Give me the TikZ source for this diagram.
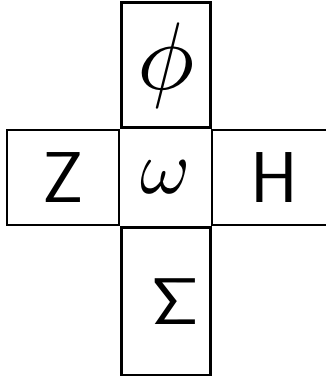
\documentclass[tikz,border=0pt]{standalone}
\usepackage{graphicx}
\usetikzlibrary{positioning}

\begin{document}
\begin{tikzpicture}[x=1pt,y=-1pt,
			cell/.style={draw, line width=2.4pt, inner sep=0pt, minimum width=89pt, minimum height=95pt},
			open/.style={inner sep=0pt, minimum width=114pt, minimum height=95pt},
			big/.style={font=\fontsize{#1}{#1}\selectfont}]
			\useasboundingbox (0,0) rectangle (325,376);
			\node[cell, draw=none] (omega) at (166,177.5) {\scalebox{7.6}{$\omega$}};
			\node[cell, minimum height=125pt, above=0pt of omega] (phi) {\scalebox{9.6}{$\phi$}};
			\node[cell, minimum height=148pt, below=0pt of omega] (sigma) {\hspace{18pt}\scalebox{6.6}{$\mathsf{\Sigma}$}};
			\node[cell, big=72, minimum width=112pt, left=0pt of omega] (z) {\textsf{Z}};
			\node[open, big=72, right=0pt of omega] (h) {\hspace{10pt}\textsf{H}};
			\draw[line width=2.4pt] (h.north east) -- (h.north west) -- (h.south west) -- (h.south east);
		\end{tikzpicture}
\end{document}
